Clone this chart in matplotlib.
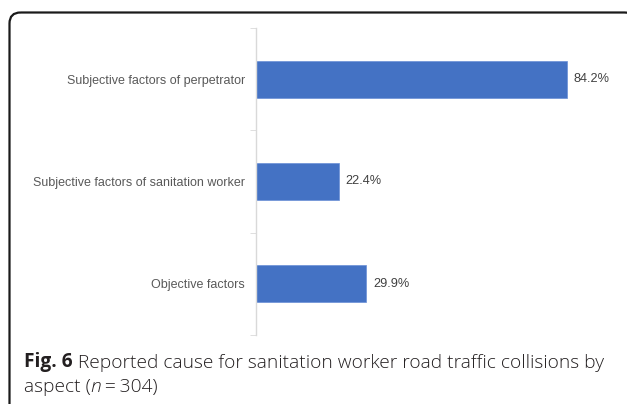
import matplotlib
matplotlib.use('Agg')
import matplotlib.pyplot as plt
from matplotlib.patches import FancyBboxPatch

# 数据
categories = ['Subjective factors of perpetrator',
              'Subjective factors of sanitation worker',
              'Objective factors']
values = [84.2, 22.4, 29.9]
value_labels = ['84.2%', '22.4%', '29.9%']

W, H = 627, 404
fig = plt.figure(figsize=(W / 100, H / 100), dpi=100)

# 外框 (像素坐标, 圆角, 右下超出画面)
bg = fig.add_axes([0, 0, 1, 1])
bg.set_xlim(0, W)
bg.set_ylim(H, 0)
bg.axis('off')
bg.add_patch(FancyBboxPatch((9.5, 12.5), 626, 440,
                            boxstyle='round,pad=0,rounding_size=11',
                            fill=False, edgecolor='#1a1a1a', linewidth=1.6))

ax = fig.add_axes([256 / W, 1 - 335 / H, 354 / W, 307 / H])
y = list(range(len(categories)))
ax.barh(y, values, height=0.36, color='#4472C4', edgecolor='#6a8fd6', linewidth=0.5)
ax.set_ylim(2.5, -0.5)
ax.set_xlim(0, 354 / 3.693)

for yi, v, lab in zip(y, values, value_labels):
    ax.text(v + 1.8, yi, lab, va='center', ha='left', fontsize=9.2,
            color='#404040', family='Liberation Sans')

ax.set_yticks(y)
ax.set_yticklabels(categories, fontsize=9.0, color='#595959', family='Liberation Sans')
ax.set_yticks([-0.5, 0.5, 1.5, 2.5], minor=True)
ax.tick_params(axis='y', which='major', length=0, pad=8)
ax.tick_params(axis='y', which='minor', length=4, color='#d9d9d9', direction='out')
ax.set_xticks([])
for s in ['top', 'right', 'bottom']:
    ax.spines[s].set_visible(False)
ax.spines['left'].set_color('#d9d9d9')
ax.spines['left'].set_linewidth(1.0)

# 标题 (分段绘制)
cap_font = 'Open Sans'
fs = 13.8
t1 = fig.text(24 / W, 1 - 367 / H, 'Fig. 6', fontsize=fs, fontweight='bold',
              family=cap_font, color='#231f20', va='baseline')
t2 = bg.annotate(' Reported cause for sanitation worker road traffic collisions by',
                 xy=(1, 0), xycoords=t1, va='bottom', ha='left', fontsize=fs,
                 family=cap_font, fontweight='light', color='#231f20',
                 annotation_clip=False)
t3 = fig.text(24 / W, 1 - 392 / H, 'aspect (', fontsize=fs, family=cap_font,
              fontweight='light', color='#231f20', va='baseline')
t4 = bg.annotate('n', xy=(1, 0), xycoords=t3, va='bottom', ha='left', fontsize=fs,
                 family=cap_font, style='italic', fontweight='light', color='#231f20',
                 annotation_clip=False)
t5 = bg.annotate('\u2009=\u2009304)', xy=(1, 0), xycoords=t4, va='bottom', ha='left',
                 fontsize=fs, family=[cap_font, 'DejaVu Sans'], fontweight='light',
                 color='#231f20', annotation_clip=False)

fig.savefig('out.png', dpi=100)
